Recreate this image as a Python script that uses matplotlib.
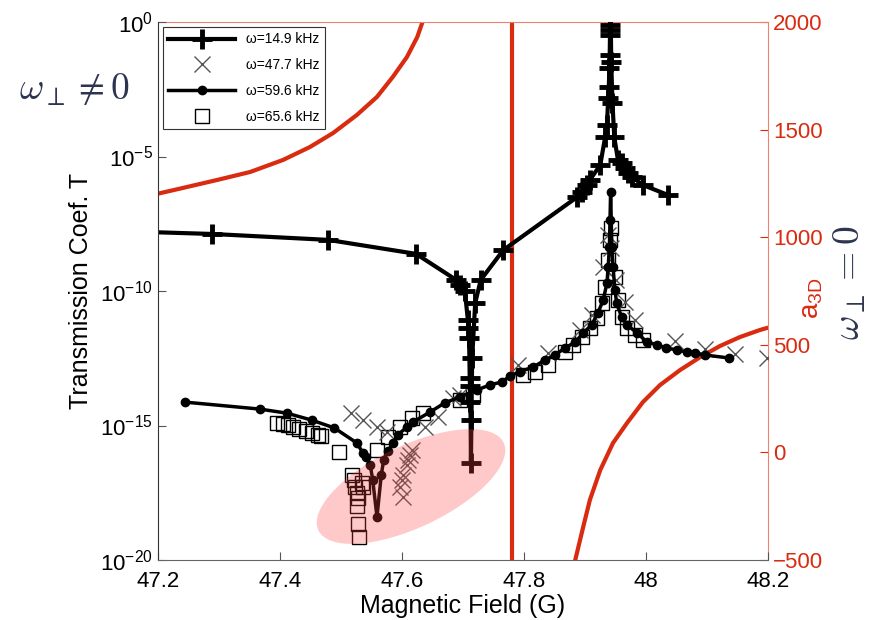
import numpy as np
import matplotlib
matplotlib.use('Agg')
import matplotlib.pyplot as plt
from matplotlib.patches import Ellipse
from matplotlib.transforms import Affine2D
from matplotlib.ticker import FixedLocator, NullLocator, FuncFormatter

plt.rcParams['font.family'] = ['Liberation Sans', 'DejaVu Sans']
plt.rcParams['mathtext.fontset'] = 'custom'
plt.rcParams['mathtext.rm'] = 'Liberation Sans'
plt.rcParams['mathtext.it'] = 'Liberation Sans:italic'
plt.rcParams['mathtext.bf'] = 'Liberation Sans:bold'

RED = '#d92b10'
SALMON = '#f08070'

# transmission, omega = 14.9 kHz (field in G, log10 T)
B_149 = [47.10, 47.289, 47.479, 47.623, 47.689, 47.695, 47.703, 47.708, 47.709, 47.710,
         47.711, 47.7115, 47.712, 47.7125, 47.713, 47.715, 47.720, 47.729, 47.766,
         47.887, 47.895, 47.903, 47.908, 47.925, 47.933, 47.936, 47.938, 47.939, 47.940,
         47.9405, 47.941, 47.9413, 47.9416, 47.942, 47.943, 47.945, 47.948, 47.954,
         47.961, 47.966, 47.970, 47.977, 47.995, 48.036]
logT_149 = [-7.75, -7.88, -8.10, -8.62, -9.59, -9.78, -10.00, -11.08, -11.38, -11.75,
            -13.23, -13.53, -14.13, -14.80, -16.39, -12.50, -10.45, -9.59, -8.48,
            -6.51, -6.32, -6.06, -5.87, -5.32, -4.28, -3.83, -2.83, -2.42, -1.71,
            -1.23, -0.48, -0.30, -0.11, 0.50, -1.50, -3.00, -4.28, -5.13,
            -5.24, -5.43, -5.61, -5.76, -6.06, -6.43]

# omega = 47.7 kHz
B_477 = [47.516, 47.536, 47.559, 47.575, 47.616, 47.613, 47.610, 47.608, 47.602, 47.600,
         47.597, 47.602, 47.638, 47.659, 47.684, 47.695, 47.790, 47.840, 47.892, 47.911,
         47.930, 47.937, 47.942, 47.950, 47.966, 47.982, 48.048, 48.097, 48.146, 48.198]
logT_477 = [-14.54, -14.80, -15.06, -15.24, -15.91, -16.10, -16.28, -16.47, -16.84, -17.03,
            -17.29, -17.66, -15.06, -14.68, -13.98, -13.87, -12.75, -12.30, -11.45, -10.90,
            -9.10, -7.90, -8.40, -9.60, -10.41, -11.08, -11.86, -12.16, -12.34, -12.49]

# omega = 59.6 kHz
B_596 = [47.244, 47.367, 47.411, 47.452, 47.489, 47.526, 47.536, 47.541, 47.548, 47.552,
         47.559, 47.566, 47.570, 47.577, 47.585, 47.593, 47.608, 47.618, 47.646, 47.670,
         47.695, 47.723, 47.744, 47.764, 47.777, 47.793, 47.815, 47.834, 47.851, 47.867,
         47.884, 47.897, 47.911, 47.921, 47.930, 47.936, 47.938, 47.940, 47.941, 47.942,
         47.944, 47.946, 47.949, 47.952, 47.960, 47.969, 47.985, 48.002, 48.018, 48.033,
         48.051, 48.067, 48.080, 48.097, 48.136]
logT_596 = [-14.13, -14.39, -14.54, -14.80, -15.09, -15.65, -16.02, -16.17, -16.47, -17.03,
            -18.40, -16.84, -16.28, -15.95, -15.65, -15.35, -15.06, -14.87, -14.50, -14.16,
            -13.94, -13.68, -13.49, -13.38, -13.16, -13.00, -12.83, -12.57, -12.38, -12.12,
            -11.90, -11.56, -11.26, -10.82, -10.33, -9.70, -9.10, -8.36, -7.36, -6.32,
            -8.36, -9.10, -9.96, -10.45, -10.97, -11.26, -11.56, -11.90, -12.00, -12.12,
            -12.19, -12.27, -12.30, -12.38, -12.49]

# omega = 65.6 kHz
B_656 = [47.395, 47.405, 47.413, 47.421, 47.431, 47.443, 47.452, 47.462, 47.467, 47.497,
         47.518, 47.521, 47.534, 47.523, 47.536, 47.526, 47.528, 47.526, 47.528, 47.530,
         47.559, 47.577, 47.597, 47.616, 47.634, 47.695, 47.716, 47.798, 47.818, 47.839,
         47.867, 47.880, 47.895, 47.908, 47.920, 47.928, 47.933, 47.938, 47.941, 47.943,
         47.949, 47.954, 47.961, 47.969, 47.982, 47.995]
logT_656 = [-14.91, -14.94, -14.98, -15.06, -15.13, -15.20, -15.28, -15.35, -15.39, -15.99,
            -16.84, -17.03, -17.14, -17.29, -17.29, -17.51, -17.70, -17.99, -18.66, -19.14,
            -15.91, -15.43, -15.06, -14.72, -14.54, -14.05, -13.87, -13.12, -13.01, -12.75,
            -12.27, -12.00, -11.71, -11.38, -11.00, -10.45, -9.85, -8.85, -8.10, -7.66,
            -9.48, -10.33, -10.97, -11.38, -11.64, -11.82]

# 3D scattering length, two branches around the resonance
B_a_left = [47.198, 47.241, 47.297, 47.351, 47.405, 47.449, 47.487, 47.526, 47.559,
            47.585, 47.608, 47.625, 47.633, 47.650]
a_left = [1201, 1229, 1266, 1303, 1359, 1419, 1484, 1568, 1652, 1745, 1837, 1930, 1995, 2150]
B_a_right = [47.870, 47.884, 47.897, 47.908, 47.925, 47.946, 47.969, 47.995, 48.023,
             48.056, 48.089, 48.121, 48.154, 48.187, 48.198, 48.220]
a_right = [-700, -500, -347, -221, -82, 44, 137, 234, 313, 383, 443, 494, 536, 569, 578, 590]
B_res = 47.78

x_ticks = [47.2, 47.4, 47.6, 47.8, 48.0, 48.2]
y_ticks = [1e-20, 1e-15, 1e-10, 1e-5, 1e0]
a_ticks = [-500, 0, 500, 1000, 1500, 2000]

fig = plt.figure(figsize=(8.69, 6.20), dpi=100)
ax = fig.add_axes([158 / 869, 60 / 620, 610 / 869, 538 / 620])
ax2 = ax.twinx()

# right axis: a_3D
ax2.plot(B_a_left, a_left, color=RED, lw=3)
ax2.plot(B_a_right, a_right, color=RED, lw=3)
ax2.axvline(B_res, color=RED, lw=3)
ax2.set_ylim(-500, 2000)
ax2.yaxis.set_major_locator(FixedLocator(a_ticks))
ax2.tick_params(axis='y', direction='in', length=6, colors=RED, labelsize=16)
for s in ['left', 'bottom']:
    ax2.spines[s].set_visible(False)
for s in ['right', 'top']:
    ax2.spines[s].set_color(SALMON)
ax2.text(1.072, 0.487, 'a$_{\\mathrm{3D}}$', transform=ax2.transAxes, rotation=90,
         ha='center', va='center', color=RED, fontsize=20)

# left axis on top of the red curves
ax.set_zorder(ax2.get_zorder() + 1)
ax.patch.set_visible(False)

T = lambda v: 10.0 ** np.array(v)
h656, = ax.plot(B_656, T(logT_656), ls='none', marker='s', ms=10, mfc='none',
                mec='black', mew=1.0, label='ω=65.6 kHz')
h477, = ax.plot(B_477, T(logT_477), ls='none', marker='x', ms=12, color='#555555',
                mew=1.0, label='ω=47.7 kHz')
h596, = ax.plot(B_596, T(logT_596), color='black', lw=2.5, marker='o', ms=6,
                label='ω=59.6 kHz')
h149, = ax.plot(B_149, T(logT_149), color='black', lw=3, marker='+', ms=14, mew=3.5,
                label='ω=14.9 kHz')

ax.set_yscale('log')
ax.set_xlim(47.2, 48.2)
ax.set_ylim(1e-20, 1)
ax.yaxis.set_major_locator(FixedLocator(y_ticks))
ax.yaxis.set_minor_locator(NullLocator())
ax.yaxis.set_major_formatter(FuncFormatter(lambda v, p: r'$10^{%d}$' % round(np.log10(v))))
ax.xaxis.set_major_locator(FixedLocator(x_ticks))
ax.xaxis.set_major_formatter(FuncFormatter(lambda v, p: '%g' % v))
ax.tick_params(direction='in', length=6, color='#555555', labelsize=16, right=False, top=False)
ax.tick_params(axis='x', pad=8)
ax.spines['top'].set_visible(False)
ax.spines['right'].set_visible(False)
ax.spines['left'].set_color('#333333')
ax.spines['bottom'].set_color('#666666')

ax.set_xlabel('Magnetic Field (G)', fontsize=18, labelpad=1)
ax.set_ylabel('Transmission Coef. T', fontsize=18, labelpad=5)

leg = ax.legend(handles=[h149, h477, h596, h656], loc='upper left', fontsize=10,
                handlelength=4.8, borderaxespad=0.35, fancybox=False, framealpha=1,
                edgecolor='#333333', labelspacing=0.85)
leg.get_frame().set_linewidth(0.8)

# highlighted region (sized in reference pixels of the axes box)
px = Affine2D().scale(1 / 610, 1 / 538) + ax.transAxes
ax.add_patch(Ellipse((253, 73.5), 205, 82, angle=25.3, transform=px,
                     facecolor=(1.0, 0.25, 0.25), edgecolor='none', alpha=0.28, zorder=5))

fig.text(75 / 869, 1 - 90 / 620, r'$\omega_\perp \neq 0$', fontsize=27, math_fontfamily='cm',
         ha='center', va='center', color='#2d3450')
fig.text(850 / 869, 1 - 283 / 620, r'$\omega_\perp = 0$', fontsize=27, math_fontfamily='cm',
         rotation=90, ha='center', va='center', color='#2d3450')

fig.savefig('out.png', dpi=100, facecolor='white')
